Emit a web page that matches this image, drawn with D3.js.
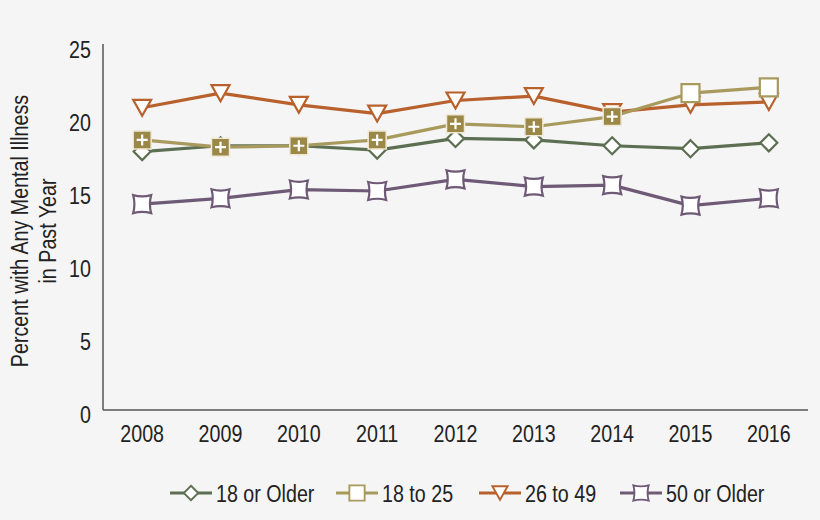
<!DOCTYPE html>
<html>
<head>
<meta charset="utf-8">
<script src="https://cdn.jsdelivr.net/npm/d3@7"></script>
<style>
html,body{margin:0;padding:0;background:#f5f5f5;}
svg{display:block;}
text{font-family:"Liberation Sans",Arial,sans-serif;fill:#222;}
</style>
</head>
<body>
<svg id="chart" width="820" height="520"></svg>
<script>
const years = ["2008","2009","2010","2011","2012","2013","2014","2015","2016"];
const yTicks = [0,5,10,15,20,25];
const older18 = [17.7,18.1,18.1,17.8,18.6,18.5,18.1,17.9,18.3];
const age18to25 = [18.5,18.0,18.1,18.5,19.6,19.4,20.1,21.7,22.1];
const age26to49 = [20.7,21.7,20.9,20.3,21.2,21.5,20.4,20.9,21.1];
const older50 = [14.1,14.5,15.1,15.0,15.8,15.3,15.4,14.0,14.5];
// significance flags for 18 to 25 (filled with plus sign)
const sig18to25 = [true,true,true,true,true,true,true,false,false];
const seriesNames = ["18 or Older","18 to 25","26 to 49","50 or Older"];

const series = [
  {name:seriesNames[0], values:older18, color:"#5d6f52", marker:"diamond"},
  {name:seriesNames[2], values:age26to49, color:"#b8612d", marker:"triangle"},
  {name:seriesNames[3], values:older50, color:"#6e5a76", marker:"square4"},
  {name:seriesNames[1], values:age18to25, color:"#a89a5c", fillSig:"#9b8746", marker:"square", sig:sig18to25}
];

const NX = 0.82; // narrow-font horizontal compression
const svg = d3.select("#chart");
const x = d3.scalePoint().domain(years).range([103,808]).padding(0.5);
const y = d3.scaleLinear().domain([0,25]).range([410,45]);

// axes
svg.append("line").attr("x1",103).attr("x2",103).attr("y1",y(25)-1).attr("y2",y(0))
  .attr("stroke","#555").attr("stroke-width",1.5);
svg.append("line").attr("x1",103).attr("x2",808).attr("y1",y(0)).attr("y2",y(0))
  .attr("stroke","#555").attr("stroke-width",1.5);

svg.append("g").selectAll("text").data(yTicks).join("text")
  .attr("transform",d=>`translate(91,${y(d)+4}) scale(${NX},1)`).attr("dy","0.36em")
  .attr("text-anchor","end").attr("font-size",24).text(d=>d);

svg.append("g").selectAll("text").data(years).join("text")
  .attr("transform",d=>`translate(${x(d)},442) scale(${NX},1)`)
  .attr("text-anchor","middle").attr("font-size",24).text(d=>d);

const yl = svg.append("text").attr("transform",`translate(28,231) rotate(-90) scale(${NX},1)`)
  .attr("text-anchor","middle").attr("font-size",24);
yl.append("tspan").attr("x",0).attr("dy",0).text("Percent with Any Mental Illness");
yl.append("tspan").attr("x",0).attr("dy",28).text("in Past Year");

function markerPath(type){
  if(type==="diamond"){ const s=8.5; return `M0,${-s}L${s},0L0,${s}L${-s},0Z`; }
  if(type==="triangle"){ return "M-9,-8L9,-8L0,8Z"; }
  if(type==="square"){ const s=9; return `M${-s},${-s}H${s}V${s}H${-s}Z`; }
  if(type==="square4"){ const s=9, c=6.5;
    return `M${-s},${-s}Q0,${-c} ${s},${-s}Q${c},0 ${s},${s}Q0,${c} ${-s},${s}Q${-c},0 ${-s},${-s}Z`; }
}

const line = d3.line().x((d,i)=>x(years[i])).y(d=>y(d));

series.forEach(s=>{
  const g = svg.append("g");
  g.append("path").datum(s.values).attr("d",line)
    .attr("fill","none").attr("stroke",s.color).attr("stroke-width",3.2).attr("stroke-linejoin","round");
  const m = g.selectAll("g.m").data(s.values).join("g")
    .attr("transform",(d,i)=>`translate(${x(years[i])},${y(d)})`);
  m.append("path").attr("d",markerPath(s.marker))
    .attr("fill",(d,i)=> s.sig && s.sig[i] ? s.fillSig : "#fff")
    .attr("stroke",(d,i)=> s.sig && s.sig[i] ? "#efe9d6" : s.color)
    .attr("stroke-width",(d,i)=> s.sig && s.sig[i] ? 1.5 : 2.2);
  if(s.sig){
    m.filter((d,i)=>s.sig[i]).append("path").attr("d","M-5.5,0H5.5M0,-5.5V5.5")
      .attr("stroke","#fff").attr("stroke-width",2.2);
  }
});

// legend
const legendItems = [
  {name:seriesNames[0], color:"#5d6f52", marker:"diamond", x:170},
  {name:seriesNames[1], color:"#a89a5c", marker:"square", x:336},
  {name:seriesNames[2], color:"#b8612d", marker:"triangle", x:479},
  {name:seriesNames[3], color:"#6e5a76", marker:"square4", x:620}
];
const lg = svg.append("g").selectAll("g").data(legendItems).join("g")
  .attr("transform",d=>`translate(${d.x},493)`);
lg.append("line").attr("x1",0).attr("x2",42).attr("stroke",d=>d.color).attr("stroke-width",3.2);
lg.append("path").attr("transform","translate(21,0) scale(0.85)")
  .attr("d",d=>markerPath(d.marker)).attr("fill","#fff")
  .attr("stroke",d=>d.color).attr("stroke-width",2.2);
lg.append("text").attr("transform",`translate(46,0) scale(${NX},1)`).attr("dy","0.36em").attr("font-size",24).text(d=>d.name);
</script>
</body>
</html>
